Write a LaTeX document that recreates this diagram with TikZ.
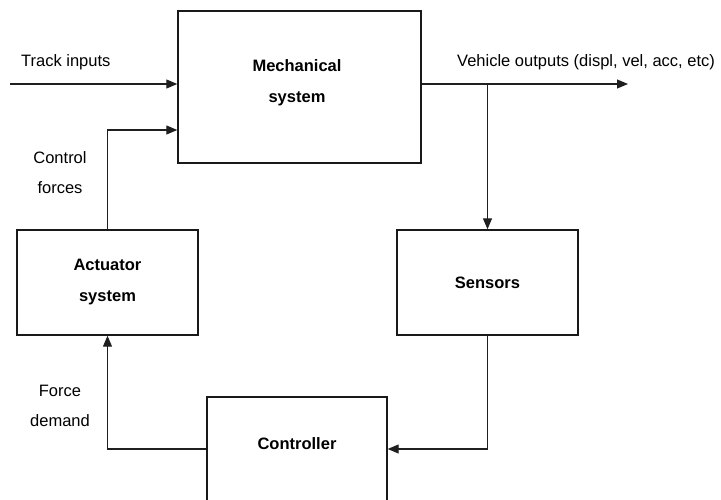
\documentclass[tikz,border=0pt]{standalone}
\usepackage{fontspec}
\setmainfont{Liberation Sans}
\usetikzlibrary{arrows.meta}
\begin{document}
\begin{tikzpicture}[x=1pt,y=1pt,
  blk/.style={draw=black!90, line width=1.4pt, rectangle, inner sep=0pt,
    font=\fontsize{16.5}{31}\selectfont\bfseries, align=center},
  lbl/.style={font=\fontsize{16.5}{30}\selectfont, align=center, inner sep=0pt},
  conn/.style={draw=black!88, line width=1.1pt},
  arr/.style={conn, -{Triangle[length=11pt,width=9pt]}}]
\clip (0,0) rectangle (721,499);
\useasboundingbox (0,0) rectangle (721,499);
% blocks
\node[blk, minimum width=243, minimum height=152] (mech) at (299.5,412) {};
\node[blk, draw=none] (mechtxt) at (297,416) {Mechanical\\system};
\node[blk, minimum width=181, minimum height=105] (act) at (107.5,216.5) {Actuator\\system};
\node[blk, minimum width=181, minimum height=105] (sens) at (487.5,216.5) {Sensors};
\node[blk, minimum width=180, minimum height=124] (ctrl) at (297,40) {};
\node[lbl, font=\fontsize{16.5}{30}\selectfont\bfseries] (ctrltxt) at (297,55) {Controller};
% labels
\node[lbl, anchor=west] (trk) at (21,437) {Track inputs};
\node[lbl, anchor=west] (veh) at (457,437) {Vehicle outputs (displ, vel, acc, etc)};
\node[lbl] (cf) at (60,326.5) {Control\\forces};
\node[lbl] (fd) at (60,93.5) {Force\\demand};
% coordinates
\coordinate (trkstart) at (10,415);
\coordinate (mechin1) at (mech.west |- trkstart);
\coordinate (mechin2) at ([yshift=-46]mechin1);
\coordinate (outstart) at (mech.east |- trkstart);
\coordinate (outend) at (628,415);
\coordinate (branch) at (sens.north |- trkstart);
\coordinate (ctrlin) at (ctrl.east |- 0,50);
\coordinate (ctrlout) at (ctrl.west |- 0,50);
% connectors
\draw[arr] (trkstart) -- (mechin1);
\draw[arr] (outstart) -- (outend);
\draw[arr] (branch) -- (sens.north);
\draw[arr] (act.north) |- (mechin2);
\draw[arr] (sens.south) |- (ctrlin);
\draw[arr] (ctrlout) -| (act.south);
\end{tikzpicture}
\end{document}
